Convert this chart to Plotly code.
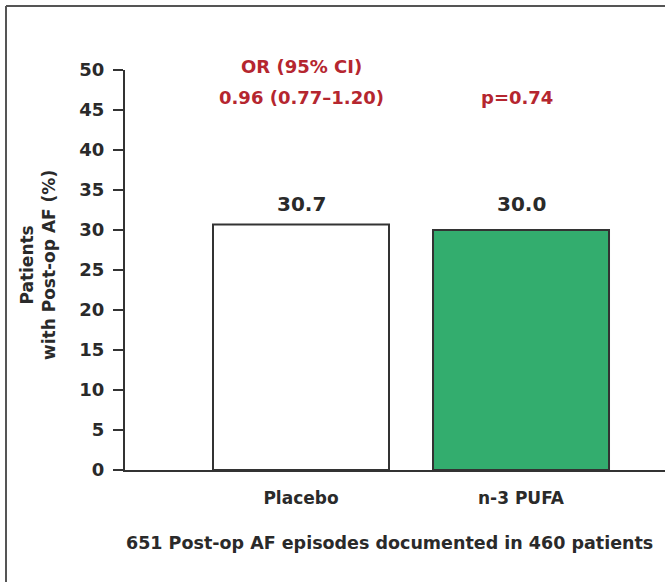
import plotly.graph_objects as go

categories = ["Placebo", "n-3 PUFA"]
values = [30.7, 30.0]
value_labels = ["30.7", "30.0"]
bar_colors = ["#ffffff", "#33ad6e"]
y_ticks = [0, 5, 10, 15, 20, 25, 30, 35, 40, 45, 50]
or_title = "OR (95% CI)"
or_value = "0.96 (0.77\u20131.20)"
p_value = "p=0.74"
footnote = "651 Post-op AF episodes documented in 460 patients"
y_title = "Patients<br>with Post-op AF (%)"

FONT = "DejaVu Sans, Verdana, sans-serif"
RED = "#b5262f"
DARK = "#2a2a2a"

W, H = 665, 582
L, R, T, B = 125, 0, 70, 112
PW, PH = W - L - R, H - T - B
xpos = list(range(len(categories)))


def py(pix):
    return (470 - pix) / PH


def px(pix):
    return (pix - L) / PW


fig = go.Figure()
fig.add_trace(go.Bar(
    x=xpos, y=values, width=0.8,
    marker=dict(color=bar_colors, line=dict(color="#333333", width=2)),
    hoverinfo="skip", showlegend=False,
))

C = dict(showarrow=False, xanchor="center", yanchor="middle")
anns = []
for xi, lab in zip(xpos, value_labels):
    anns.append(dict(x=xi, y=py(204), xref="x", yref="paper", text="<b>%s</b>" % lab,
                     font=dict(family=FONT, size=20, color=DARK), **C))
anns.append(dict(x=0, y=py(66), xref="x", yref="paper", text="<b>%s</b>" % or_title,
                 font=dict(family=FONT, size=18, color=RED), **C))
anns.append(dict(x=0, y=py(97), xref="x", yref="paper", text="<b>%s</b>" % or_value,
                 font=dict(family=FONT, size=18, color=RED), **C))
anns.append(dict(x=0.98, y=py(97), xref="x", yref="paper", text="<b>%s</b>" % p_value,
                 font=dict(family=FONT, size=18, color=RED), **C))
anns.append(dict(x=px(389), y=py(543), xref="paper", yref="paper",
                 text="<b>%s</b>" % footnote,
                 font=dict(family=FONT, size=17.5, color=DARK), **C))
anns.append(dict(x=px(38), y=py(265), xref="paper", yref="paper",
                 text="<b>%s</b>" % y_title, textangle=-90,
                 font=dict(family=FONT, size=17, color=DARK), **C))

shapes = [
    dict(type="line", xref="paper", yref="paper",
         x0=px(6), x1=1.02, y0=py(6), y1=py(6),
         line=dict(color="#555555", width=2)),
    dict(type="line", xref="paper", yref="paper",
         x0=px(6), x1=px(6), y0=py(6), y1=py(590),
         line=dict(color="#555555", width=2)),
]

fig.update_layout(
    width=W, height=H,
    margin=dict(l=L, r=R, t=T, b=B, autoexpand=False),
    paper_bgcolor="white", plot_bgcolor="white",
    annotations=anns, shapes=shapes,
    xaxis=dict(range=[-0.8, 1.6545], tickvals=xpos,
               ticktext=["<b>%s</b>" % c for c in categories],
               showline=True, linecolor="#333333", linewidth=2,
               ticks="", showgrid=False, zeroline=False,
               tickfont=dict(family=FONT, size=17, color=DARK), ticklabelstandoff=12),
    yaxis=dict(range=[0, 50], tickvals=y_ticks,
               ticktext=["<b>%d</b>" % v for v in y_ticks],
               showline=True, linecolor="#333333", linewidth=2,
               ticks="outside", ticklen=10, tickwidth=2, tickcolor="#333333",
               showgrid=False, zeroline=False, ticklabelstandoff=5,
               tickfont=dict(family=FONT, size=18, color=DARK)),
)

fig.write_html("out.html", config={"displayModeBar": False},
               post_script="document.body.style.margin='0';document.body.style.overflow='hidden';")
